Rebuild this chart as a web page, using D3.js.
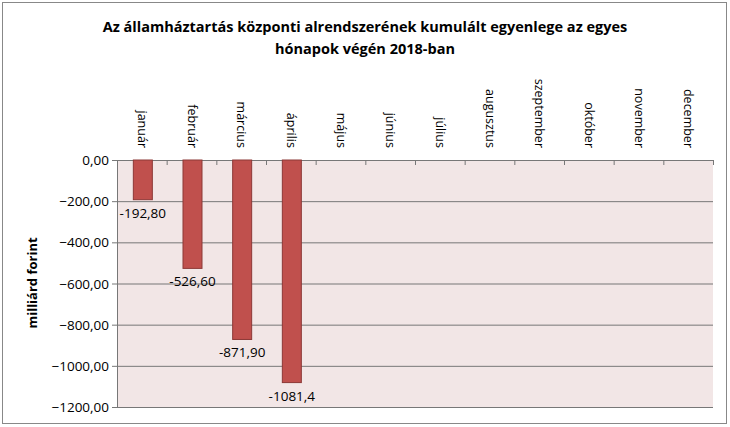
<!DOCTYPE html>
<html><head><meta charset="utf-8"><script src="https://d3js.org/d3.v7.min.js"></script>
<style>body{margin:0;background:#fff}</style></head><body>
<script>
const months=["január","február","március","április","május","június","július","augusztus","szeptember","október","november","december"];
const values=[-192.8,-526.6,-871.9,-1081.4];
const valueLabels=["-192,80","-526,60","-871,90","-1081,4"];
const yTicks=[0,-200,-400,-600,-800,-1000,-1200];
const W=730,H=427,L=117,R=713,T=160,B=407;
const svg=d3.select("body").append("svg").attr("width",W).attr("height",H).style("font-family","'Open Sans', sans-serif");
svg.append("rect").attr("x",2.5).attr("y",2.5).attr("width",724).attr("height",421).attr("fill","#fff").attr("stroke","#888");
svg.append("text").attr("x",365).attr("y",32).attr("text-anchor","middle").attr("font-weight","bold").attr("font-size",14.5).text("Az államháztartás központi alrendszerének kumulált egyenlege az egyes");
svg.append("text").attr("x",365).attr("y",54).attr("text-anchor","middle").attr("font-weight","bold").attr("font-size",14.5).text("hónapok végén 2018-ban");
const x=d3.scaleBand().domain(months).range([L,R]);
const y=d3.scaleLinear().domain([-1200,0]).range([B,T]);
svg.append("rect").attr("x",L).attr("y",T).attr("width",R-L).attr("height",B-T).attr("fill","#f2e6e6");
svg.selectAll(".g").data(yTicks).join("line").attr("x1",L-5).attr("x2",R).attr("y1",d=>y(d)+.5).attr("y2",d=>y(d)+.5).attr("stroke","#777");
svg.selectAll(".yl").data(yTicks).join("text").attr("x",L-8).attr("y",d=>y(d)+5).attr("text-anchor","end").attr("font-size",13.5).text(d=>d3.format(".2f")(d).replace(".",","));
svg.append("line").attr("x1",L+.5).attr("x2",L+.5).attr("y1",T).attr("y2",B).attr("stroke","#777");
svg.selectAll(".tk").data(months.slice(1).concat(["_"])).join("line").attr("x1",(d,i)=>L+x.bandwidth()*(i+1)+.5).attr("x2",(d,i)=>L+x.bandwidth()*(i+1)+.5).attr("y1",T).attr("y2",T+5).attr("stroke","#777");
const bw=19;
svg.selectAll(".bar").data(values).join("rect").attr("x",(d,i)=>x(months[i])+x.bandwidth()/2-bw/2+1).attr("y",y(0)).attr("width",bw).attr("height",d=>y(d)-y(0)).attr("fill","#c0504d").attr("stroke","#8c3836").attr("stroke-width",1);
svg.selectAll(".vl").data(values).join("text").attr("x",(d,i)=>x(months[i])+x.bandwidth()/2+1).attr("y",d=>y(d)+18).attr("text-anchor","middle").attr("font-size",13.5).text((d,i)=>valueLabels[i]);
svg.selectAll(".ml").data(months).join("text").attr("transform",d=>`translate(${x(d)+x.bandwidth()/2-4},148) rotate(90)`).attr("text-anchor","end").attr("font-size",12.5).text(d=>d);
svg.append("text").attr("transform","translate(37,283) rotate(-90)").attr("text-anchor","middle").attr("font-weight","bold").attr("font-size",13).text("milliárd forint");
</script></body></html>
